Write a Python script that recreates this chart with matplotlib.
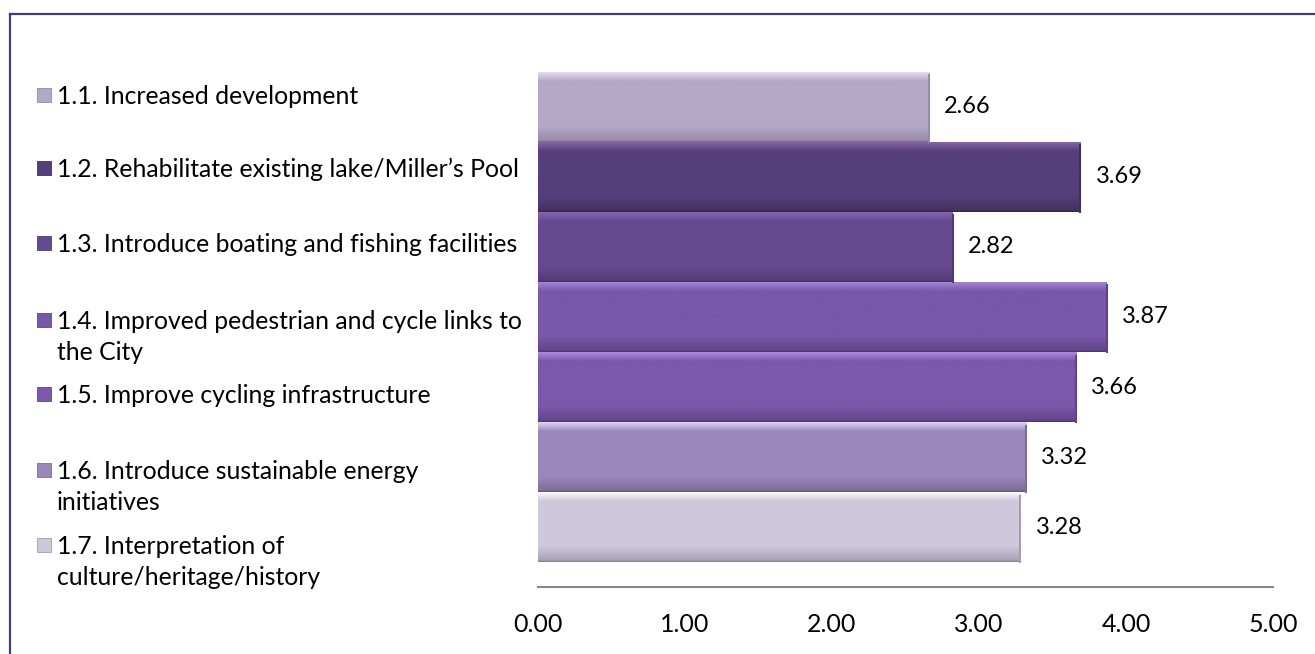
import numpy as np
import matplotlib
matplotlib.use("Agg")
import matplotlib.pyplot as plt
from matplotlib.colors import to_rgb
from matplotlib.patches import Rectangle
from matplotlib.lines import Line2D

plt.rcParams['font.family'] = ['Lato', 'DejaVu Sans']

labels = [
    "1.1. Increased development",
    "1.2. Rehabilitate existing lake/Miller\u2019s Pool",
    "1.3. Introduce boating and fishing facilities",
    "1.4. Improved pedestrian and cycle links to\nthe City",
    "1.5. Improve cycling infrastructure",
    "1.6. Introduce sustainable energy\ninitiatives",
    "1.7. Interpretation of\nculture/heritage/history",
]
values = [2.66, 3.69, 2.82, 3.87, 3.66, 3.32, 3.28]
ticks = [0, 1, 2, 3, 4, 5]

# highlight / main / shadow for each bar
tops = ['#e8e0f0', '#8a6aa8', '#8668b0', '#a58ad8', '#b090e0', '#eadcf8', '#ffffff']
mains = ['#b4a8c8', '#553f7b', '#664a90', '#7858a8', '#7c58aa', '#9a88bb', '#cfc8dc']
bottoms = ['#968aa8', '#42305c', '#533a76', '#5e4486', '#5f4487', '#7c6a98', '#a49cb2']

W, H = 1315, 654
fig = plt.figure(figsize=(W / 100, H / 100), dpi=100)
ax = fig.add_axes([538 / W, 67 / H, 735 / W, 540 / H])

y = np.arange(len(values))
bars = ax.barh(y, values, height=1.0, color=mains, edgecolor='none')


def grad(c_top, c_mid, c_bot, n=100):
    t, m, b = np.array(to_rgb(c_top)), np.array(to_rgb(c_mid)), np.array(to_rgb(c_bot))
    out = []
    for k in range(n):
        f = k / (n - 1)
        if f < 0.14:
            c = t + (m - t) * (f / 0.14)
        elif f < 0.78:
            c = m
        else:
            c = m + (b - m) * ((f - 0.78) / 0.22)
        out.append(c)
    out[-1] = b * 0.8
    out[-2] = b * 0.9
    return np.array(out)[:, None, :]


for i, p in enumerate(bars):
    x0, y0 = p.get_x(), p.get_y()
    w, h = p.get_width(), p.get_height()
    img = ax.imshow(grad(tops[i], mains[i], bottoms[i]), extent=(x0, x0 + w, y0 + h, y0),
                    aspect='auto', interpolation='bilinear', zorder=2)
    img.set_clip_path(p)
    # right bevel edge
    ax.plot([x0 + w, x0 + w], [y0 + 0.05, y0 + h], color=bottoms[i], lw=1.5, zorder=3)
    ax.annotate(f"{values[i]:.2f}", (values[i], y[i]), xytext=(11, 0),
                textcoords='offset points', va='center', ha='left', fontsize=17, color='black')

ax.set_xlim(0, 5)
ax.set_ylim(len(values) - 0.5 + 0.357, -0.857)
ax.set_xticks(ticks)
ax.set_xticklabels([f"{t:.2f}" for t in ticks], fontsize=18)
ax.tick_params(axis='x', length=0, pad=19)
ax.set_yticks([])
for s in ['top', 'right', 'left']:
    ax.spines[s].set_visible(False)
ax.spines['bottom'].set_color('#888888')
ax.spines['bottom'].set_linewidth(1.5)

# legend down the left side
leg_y = [95, 168, 243, 320, 394, 470, 545]
for i, lab in enumerate(labels):
    yy = 1 - leg_y[i] / H
    fig.text(57 / W, yy + 10 / H, lab, fontsize=17.8, va='top', ha='left',
             linespacing=1.42, color='black')
    sq = Rectangle((37 / W, yy - 7 / H), 14 / W, 14 / H, transform=fig.transFigure,
                   facecolor=mains[i], edgecolor=bottoms[i], lw=0.6)
    fig.add_artist(sq)

# outer chart border
fig.add_artist(Line2D([10 / W, 10 / W], [0, 1 - 14 / H], transform=fig.transFigure,
                      color='#4b3a6b', lw=1.6))
fig.add_artist(Line2D([10 / W, 1], [1 - 14 / H, 1 - 14 / H], transform=fig.transFigure,
                      color='#4b3a6b', lw=1.6))

fig.savefig('out.png', dpi=100)
